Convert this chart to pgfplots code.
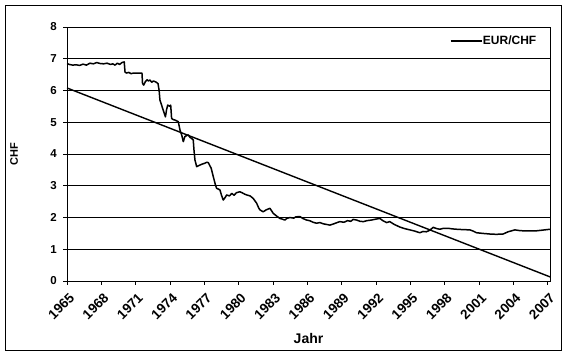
\documentclass[border=0pt]{standalone}
\usepackage{fontspec}
\setmainfont{Liberation Sans}
\usepackage{pgfplots}
\pgfplotsset{compat=1.18}
\begin{document}
\begin{tikzpicture}
\begin{axis}[
  at={(0,0)}, anchor=south west,
  scale only axis, width=483pt, height=254pt,
  xmin=1965, xmax=2007.2, ymin=0, ymax=8,
  xtick={1965,1968,...,2007}, ytick={0,1,...,8},
  xtick pos=left, ytick pos=left,
  tick align=outside, major tick length=4pt,
  tick style={black, line width=0.8pt},
  axis line style={black, line width=0.8pt},
  ymajorgrids, grid style={black, line width=0.8pt},
  /pgf/number format/assume math mode=true,
  xticklabel style={/pgf/number format/set thousands separator={}, font=\fontsize{13.5}{13.5}\selectfont\bfseries, rotate=45, anchor=east, inner sep=0pt, xshift=-4pt, yshift=-11pt},
  yticklabel style={font=\fontsize{11.5}{11.5}\selectfont\bfseries, anchor=east, inner sep=0pt, xshift=-6pt},
  xlabel={Jahr}, ylabel={CHF},
  every axis x label/.style={at={(axis description cs:0.5,0)}, yshift=-57pt, anchor=center, font=\fontsize{14}{14}\selectfont\bfseries},
  every axis y label/.style={at={(axis description cs:0,0.5)}, xshift=-53pt, rotate=90, anchor=center, font=\fontsize{11}{11}\selectfont\bfseries},
  legend style={draw=none, fill=none, at={(1,1)}, anchor=north east, xshift=-13pt, yshift=-8pt, font=\fontsize{12}{12}\selectfont\bfseries, inner sep=0pt, nodes={inner sep=0.5pt}, /tikz/every even column/.append style={column sep=0pt}},
  legend image code/.code={\draw[black, line width=1.5pt] (-4pt,0pt) -- (27pt,0pt);},
  legend cell align=left,
]
\addplot[black, line width=1.5pt, line join=round] coordinates {
(1965.0,6.85) (1965.2,6.82) (1965.5,6.80) (1965.8,6.81) (1966.1,6.79) (1966.4,6.83) (1966.7,6.80) (1967.0,6.86) (1967.3,6.84) (1967.6,6.88) (1967.9,6.85) (1968.2,6.84) (1968.5,6.86) (1968.8,6.82) (1969.0,6.84) (1969.2,6.80) (1969.4,6.86) (1969.6,6.82) (1969.8,6.88) (1970.0,6.90)
(1970.07,6.58) (1970.2,6.55) (1970.4,6.57) (1970.6,6.53) (1970.8,6.55) (1971.0,6.55) (1971.3,6.55) (1971.55,6.55)
(1971.6,6.22) (1971.7,6.17) (1971.85,6.28) (1972.0,6.34) (1972.1,6.30) (1972.25,6.33) (1972.4,6.26) (1972.55,6.30) (1972.75,6.27) (1972.95,6.22)
(1973.05,6.0) (1973.12,5.70) (1973.3,5.50) (1973.5,5.28) (1973.6,5.17) (1973.7,5.40) (1973.8,5.54) (1974.0,5.50) (1974.06,5.54)
(1974.14,5.12) (1974.3,5.08) (1974.43,5.07) (1974.6,5.04) (1974.72,5.02) (1974.87,4.76) (1975.02,4.60) (1975.16,4.39) (1975.3,4.55) (1975.45,4.58) (1975.6,4.60) (1975.75,4.52) (1975.9,4.49) (1976.03,4.44)
(1976.1,4.10) (1976.18,3.81) (1976.33,3.60) (1976.6,3.65) (1976.8,3.68) (1977.05,3.71) (1977.2,3.74) (1977.34,3.73) (1977.6,3.55) (1977.78,3.29) (1977.95,3.05) (1978.07,2.92) (1978.36,2.87) (1978.5,2.70) (1978.65,2.55) (1978.8,2.62) (1978.95,2.71)
(1979.2,2.68) (1979.4,2.76) (1979.6,2.70) (1979.8,2.78) (1980.1,2.81) (1980.3,2.78) (1980.5,2.74) (1980.7,2.71) (1981.0,2.68) (1981.27,2.60) (1981.57,2.45) (1981.75,2.30) (1981.86,2.24) (1982.14,2.18) (1982.4,2.24) (1982.73,2.29)
(1983.02,2.13) (1983.3,2.05) (1983.6,1.97) (1983.8,1.95) (1984.04,1.92) (1984.2,1.97) (1984.48,2.00) (1984.8,1.98) (1985.0,2.02) (1985.35,2.03) (1985.6,1.97) (1985.93,1.92) (1986.2,1.90) (1986.5,1.85) (1986.8,1.82) (1987.1,1.84) (1987.4,1.80) (1987.7,1.78) (1987.97,1.76)
(1988.3,1.80) (1988.6,1.84) (1988.84,1.87) (1989.2,1.85) (1989.5,1.90) (1989.8,1.88) (1990.0,1.94) (1990.3,1.92) (1990.6,1.88) (1990.9,1.87) (1991.2,1.90) (1991.6,1.92) (1992.0,1.95) (1992.34,1.97) (1992.6,1.90) (1992.92,1.84)
(1993.2,1.87) (1993.6,1.78) (1994.08,1.70) (1994.5,1.65) (1994.96,1.61) (1995.4,1.57) (1995.83,1.52) (1996.1,1.56) (1996.4,1.55) (1996.7,1.60) (1997.0,1.69) (1997.3,1.65) (1997.58,1.63) (1997.9,1.66) (1998.3,1.66) (1998.7,1.64) (1999.03,1.63) (1999.5,1.62)
(2000.2,1.61) (2000.5,1.57) (2000.78,1.52) (2001.3,1.50) (2001.94,1.48) (2002.5,1.47) (2003.1,1.48) (2003.54,1.55) (2004.13,1.61) (2004.5,1.59) (2004.85,1.58) (2005.4,1.58) (2006.0,1.58) (2006.5,1.60) (2007.2,1.63)
};
\addlegendentry{EUR/CHF}
\addplot[black, line width=1.4pt, forget plot] coordinates {(1965,6.08) (2007.2,0.13)};
\end{axis}
\draw[black, line width=0.8pt] (-62pt,-69pt) rectangle (494pt,276pt);
\path (-67pt,-74pt) rectangle (500pt,281pt);
\end{tikzpicture}
\end{document}
